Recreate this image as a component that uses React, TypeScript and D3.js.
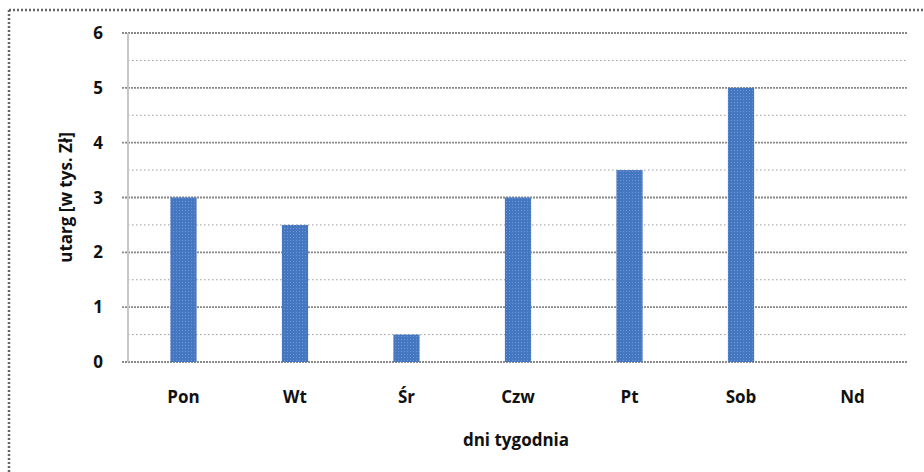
import { useEffect, useRef } from 'react';
import * as d3 from 'd3';

const days = ['Pon', 'Wt', 'Śr', 'Czw', 'Pt', 'Sob', 'Nd'];
const revenue = [3, 2.5, 0.5, 3, 3.5, 5, 0];
const yTicks = [0, 1, 2, 3, 4, 5, 6];
const minorTicks = [0.5, 1.5, 2.5, 3.5, 4.5, 5.5];

const W = 924;
const H = 472;

export default function App() {
  const svgRef = useRef<SVGSVGElement>(null);

  useEffect(() => {
    if (!svgRef.current) return;
    const svg = d3.select(svgRef.current);
    svg.selectAll('*').remove();

    const margin = { top: 33, right: 16, bottom: 110, left: 128 };
    const width = W - margin.left - margin.right;
    const height = H - margin.top - margin.bottom;
    const font = "'Open Sans', 'DejaVu Sans', sans-serif";

    // outer dotted frame (top + left only visible)
    svg.append('line')
      .attr('x1', 9).attr('x2', W).attr('y1', 10).attr('y2', 10)
      .attr('stroke', '#666').attr('stroke-width', 2.5).attr('stroke-dasharray', '2,2');
    svg.append('line')
      .attr('x1', 9).attr('x2', 9).attr('y1', 10).attr('y2', H)
      .attr('stroke', '#666').attr('stroke-width', 2.5).attr('stroke-dasharray', '2,2');

    const x = d3.scaleBand().domain(days).range([0, width]).paddingInner(0.765).paddingOuter(0.38);
    const y = d3.scaleLinear().domain([0, 6]).range([height, 0]);

    const g = svg.append('g').attr('transform', `translate(${margin.left},${margin.top})`);

    g.selectAll('.minor')
      .data(minorTicks)
      .enter().append('line')
      .attr('x1', 0).attr('x2', width)
      .attr('y1', d => y(d)).attr('y2', d => y(d))
      .attr('stroke', '#999').attr('stroke-width', 1).attr('stroke-dasharray', '1.5,2.5');

    g.selectAll('.major')
      .data(yTicks)
      .enter().append('line')
      .attr('x1', -6).attr('x2', width)
      .attr('y1', d => y(d)).attr('y2', d => y(d))
      .attr('stroke', '#888').attr('stroke-width', 1.8).attr('stroke-dasharray', '2,1');

    g.append('line')
      .attr('x1', 0).attr('x2', 0).attr('y1', 0).attr('y2', height)
      .attr('stroke', '#c8c8c8').attr('stroke-width', 2);

    const defs = svg.append('defs');
    const pat = defs.append('pattern')
      .attr('id', 'hatch').attr('width', 3).attr('height', 3)
      .attr('patternUnits', 'userSpaceOnUse');
    pat.append('rect').attr('width', 3).attr('height', 3).attr('fill', '#4576c0');
    pat.append('rect').attr('width', 1).attr('height', 1).attr('fill', '#6b95d6');

    g.selectAll('.bar')
      .data(revenue.map((v, i) => ({ day: days[i], v })))
      .enter().append('rect')
      .attr('x', d => x(d.day)!)
      .attr('width', x.bandwidth())
      .attr('y', d => y(d.v))
      .attr('height', d => height - y(d.v))
      .attr('fill', 'url(#hatch)');

    const label = (sel: d3.Selection<SVGTextElement, any, any, any>) =>
      sel.style('font-family', font).style('font-weight', 'bold').style('font-size', '17px').attr('fill', '#111');

    g.selectAll<SVGTextElement, number>('.ytick')
      .data(yTicks)
      .enter().append('text')
      .attr('x', -25).attr('y', d => y(d))
      .attr('dy', '0.36em')
      .attr('text-anchor', 'end')
      .call(label)
      .text(d => d);

    g.selectAll<SVGTextElement, string>('.xtick')
      .data(days)
      .enter().append('text')
      .attr('x', d => x(d)! + x.bandwidth() / 2)
      .attr('y', height + 41)
      .attr('text-anchor', 'middle')
      .call(label)
      .text(d => d);

    g.append('text')
      .attr('x', width / 2 - 2).attr('y', height + 84)
      .attr('text-anchor', 'middle')
      .call(label)
      .text('dni tygodnia');

    g.append('text')
      .attr('transform', `translate(-62,${height / 2}) rotate(-90)`)
      .attr('text-anchor', 'middle')
      .attr('dy', '0.35em')
      .call(label)
      .text('utarg [w tys. Zł]');
  }, []);

  return (
    <div style={{ position: 'fixed', left: 0, top: 0 }}>
      <svg ref={svgRef} width={W} height={H} style={{ display: 'block', background: '#fff' }} />
    </div>
  );
}
